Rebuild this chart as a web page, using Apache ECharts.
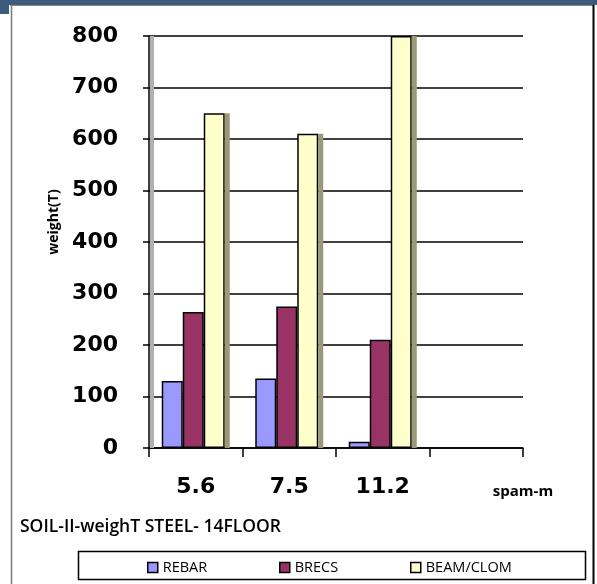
<!DOCTYPE html>
<html>
<head>
<meta charset="utf-8">
<script src="https://cdn.jsdelivr.net/npm/echarts@6/dist/echarts.min.js"></script>
<style>
  html, body { margin: 0; padding: 0; background: #ffffff; }
  #chart { width: 597px; height: 584px; }
</style>
</head>
<body>
<div id="chart"></div>
<script>
// Span categories (m); the fourth slot is left empty
const spans = ['5.6', '7.5', '11.2', ''];
// Steel weight per element type (T)
const seriesNames = ['REBAR', 'BRECS', 'BEAM/CLOM'];
const rebar = [130, 135, 12, null];
const brecs = [264, 275, 210, null];
const beamColumn = [650, 610, 800, null];
const yTicks = { min: 0, max: 800, interval: 100 };

const chart = echarts.init(document.getElementById('chart'));
const font = '"Open Sans", "Noto Sans", sans-serif';
const axisFont = '"DejaVu Sans", "Open Sans", sans-serif';

function barSeries(name, data, color) {
  return {
    name: name,
    type: 'bar',
    data: data,
    barWidth: 21,
    barGap: '0%',
    itemStyle: { color: color, borderColor: '#000', borderWidth: 1.5 }
  };
}

// One legend block per series, spaced evenly inside the legend box
const legendLefts = [142, 274, 405];
const legends = seriesNames.map(function (name, i) {
  return {
    data: [name],
    left: legendLefts[i],
    top: 555,
    itemWidth: 10,
    itemHeight: 10,
    icon: 'rect',
    itemStyle: { borderColor: '#000', borderWidth: 1.5 },
    textStyle: { fontFamily: font, fontSize: 14.5, color: '#000' }
  };
});

chart.setOption({
  animation: false,
  grid: { left: 149, right: 74, top: 36, bottom: 136 },
  title: {
    text: 'SOIL-II-weighT STEEL- 14FLOOR',
    left: 15,
    top: 513,
    textStyle: { fontFamily: font, fontSize: 17.5, fontWeight: 600, color: '#000' }
  },
  legend: legends,
  xAxis: {
    type: 'category',
    data: spans,
    name: 'spam-m',
    nameLocation: 'end',
    nameGap: 0,
    nameTextStyle: {
      fontFamily: font, fontSize: 15, fontWeight: 'bold', color: '#000',
      align: 'center', verticalAlign: 'top', padding: [36, 0, 0, 0]
    },
    axisLine: { lineStyle: { color: '#000', width: 1.5 } },
    axisTick: { show: true, length: 9, lineStyle: { color: '#000', width: 1.5 } },
    axisLabel: { fontFamily: axisFont, fontSize: 22, fontWeight: 'bold', color: '#000', margin: 28 }
  },
  yAxis: {
    type: 'value',
    min: yTicks.min,
    max: yTicks.max,
    interval: yTicks.interval,
    name: 'weight(T)',
    nameLocation: 'middle',
    nameGap: 84,
    nameRotate: 90,
    nameTextStyle: { fontFamily: font, fontSize: 14, fontWeight: 'bold', color: '#000', padding: [0, 0, 0, 40] },
    axisLine: { show: true, lineStyle: { color: '#000', width: 1.5 } },
    axisTick: { show: true, length: 6, inside: false, lineStyle: { color: '#000', width: 1.5 } },
    axisLabel: { fontFamily: axisFont, fontSize: 22, fontWeight: 'bold', color: '#000', margin: 31 },
    splitLine: { lineStyle: { color: '#000', width: 1.5 } }
  },
  series: [
    barSeries(seriesNames[0], rebar, '#9999ff'),
    barSeries(seriesNames[1], brecs, '#993366'),
    barSeries(seriesNames[2], beamColumn, '#ffffcc'),
    // Shaded side face of the beam/column bar
    {
      name: 'beam-side',
      type: 'bar',
      data: beamColumn,
      barWidth: 5,
      barGap: '0%',
      silent: true,
      itemStyle: { color: '#9a9a78', borderWidth: 0 }
    }
  ]
});

// Frame, top band, legend box and the shaded wall edge beside the value axis
const yTop = chart.convertToPixel({ yAxisIndex: 0 }, yTicks.max);
const yBase = chart.convertToPixel({ yAxisIndex: 0 }, yTicks.min);
chart.setOption({
  graphic: [
    { type: 'rect', shape: { x: 0, y: 0, width: 597, height: 5 }, style: { fill: '#3d5b7b' }, z: 10 },
    { type: 'rect', shape: { x: 0, y: 0, width: 9, height: 14 }, style: { fill: '#3d5b7b' }, z: 10 },
    { type: 'line', shape: { x1: 11.5, y1: 5, x2: 11.5, y2: 584 }, style: { stroke: '#777', lineWidth: 1.5 }, z: 10 },
    { type: 'line', shape: { x1: 10, y1: 5.5, x2: 594, y2: 5.5 }, style: { stroke: '#888', lineWidth: 1 }, z: 10 },
    { type: 'line', shape: { x1: 593.5, y1: 5, x2: 593.5, y2: 584 }, style: { stroke: '#000', lineWidth: 2 }, z: 10 },
    { type: 'rect', shape: { x: 78.5, y: 551.5, width: 507, height: 28 }, style: { fill: 'none', stroke: '#000', lineWidth: 1.5 }, z: 10 },
    { type: 'rect', shape: { x: 150, y: yTop, width: 4, height: yBase - yTop }, style: { fill: '#b0b0b0' }, z: 1 }
  ]
});
</script>
</body>
</html>
